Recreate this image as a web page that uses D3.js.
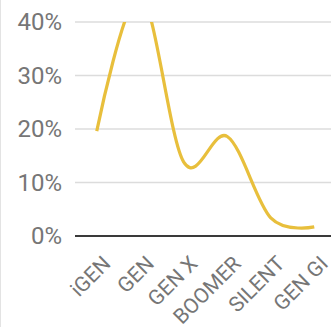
<!DOCTYPE html>
<html>
<head>
<meta charset="utf-8">
<script src="https://cdn.jsdelivr.net/npm/d3@7"></script>
<style>
  html, body { margin: 0; padding: 0; background: #fff; }
  svg { display: block; }
</style>
</head>
<body>
<svg id="chart" width="331" height="327"></svg>
<script>
// Share of each generation
const generations = ["iGEN", "GEN", "GEN X", "BOOMER", "SILENT", "GEN GI"];
const shares = [19.6, 45, 13.8, 18.6, 3.4, 1.7];
const yTicks = [0, 10, 20, 30, 40];

const svg = d3.select("#chart");
const W = 331, H = 327;
const plot = { left: 75, right: 336, top: 22, bottom: 236 };

const x = d3.scaleBand().domain(generations).range([plot.left, plot.right]).padding(0);
const y = d3.scaleLinear().domain([0, 40]).range([plot.bottom, plot.top]);

// frame edge on the left
svg.append("line")
  .attr("x1", 0.5).attr("x2", 0.5).attr("y1", 0).attr("y2", H)
  .attr("stroke", "#e3e3e3").attr("stroke-width", 1);

// horizontal grid
svg.append("g").selectAll("line")
  .data(yTicks.filter(d => d !== 0))
  .join("line")
  .attr("x1", plot.left).attr("x2", W)
  .attr("y1", d => y(d)).attr("y2", d => y(d))
  .attr("stroke", "#dcdcdc").attr("stroke-width", 1.5);

// y axis labels
const yAxis = d3.axisLeft(y).tickValues(yTicks).tickFormat(d => d + "%").tickSize(0).tickPadding(13);
const gy = svg.append("g").attr("transform", `translate(${plot.left},0)`).call(yAxis);
gy.select(".domain").remove();
gy.selectAll("text")
  .attr("fill", "#767676")
  .style("font-family", "Roboto, 'Noto Sans', sans-serif")
  .style("font-size", "24px");

// clipped trend line
svg.append("clipPath").attr("id", "plotclip")
  .append("rect").attr("x", 0).attr("y", plot.top).attr("width", W).attr("height", H - plot.top);

const line = d3.line()
  .x((d, i) => x(generations[i]) + x.bandwidth() / 2)
  .y(d => y(d))
  .curve(d3.curveCardinal.tension(0));

svg.append("path")
  .datum(shares)
  .attr("clip-path", "url(#plotclip)")
  .attr("d", line)
  .attr("fill", "none")
  .attr("stroke", "#e8bf3c")
  .attr("stroke-width", 3.2);

// baseline
svg.append("line")
  .attr("x1", plot.left).attr("x2", W)
  .attr("y1", y(0)).attr("y2", y(0))
  .attr("stroke", "#3a3a3a").attr("stroke-width", 2);

// x axis labels
const xAxis = d3.axisBottom(x).tickSize(0).tickPadding(0);
const gx = svg.append("g").attr("transform", `translate(0,${plot.bottom})`).call(xAxis);
gx.select(".domain").remove();
gx.selectAll("text")
  .attr("fill", "#767676")
  .style("font-family", "Roboto, 'Noto Sans', sans-serif")
  .style("font-size", "21px")
  .attr("text-anchor", "end")
  .attr("dy", null)
  .attr("y", 0)
  .attr("transform", "translate(15,29) rotate(-45)");
</script>
</body>
</html>
